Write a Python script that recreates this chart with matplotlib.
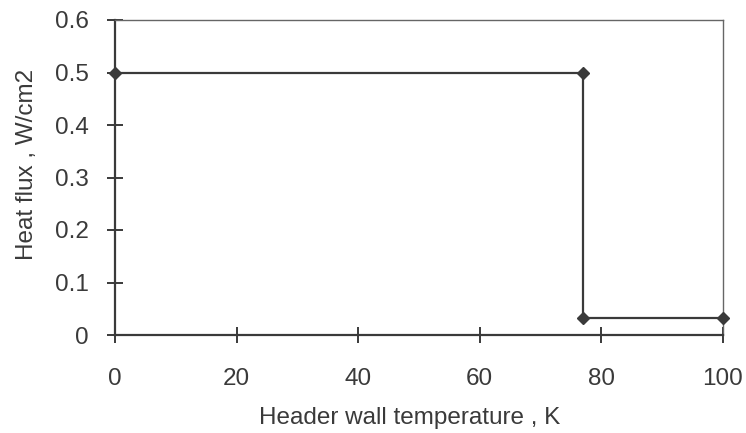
import matplotlib
matplotlib.use("Agg")
import matplotlib.pyplot as plt

# wall temperature (K) and heat flux (W/cm2) at the step points
temperature = [0, 77, 77, 100]
heat_flux = [0.5, 0.5, 0.032, 0.032]

x_ticks = [0, 20, 40, 60, 80, 100]
y_ticks = [0, 0.1, 0.2, 0.3, 0.4, 0.5, 0.6]

plt.rcParams["font.family"] = ["Liberation Sans", "DejaVu Sans"]
ink = "#3a3a3a"

fig = plt.figure(figsize=(7.46, 4.33), dpi=100)
ax = fig.add_axes([115 / 746, 1 - 335 / 433, 608 / 746, 315 / 433])

ax.plot(temperature, heat_flux, color=ink, lw=1.6, marker="D", ms=6,
        mfc=ink, mec=ink, clip_on=False, zorder=3)

ax.set_xlim(0, 100)
ax.set_ylim(0, 0.6)
ax.set_xticks(x_ticks)
ax.set_yticks(y_ticks)
ax.set_xticklabels([str(t) for t in x_ticks])
ax.set_yticklabels(["0"] + [f"{t:.1f}" for t in y_ticks[1:]])
ax.tick_params(direction="inout", length=12, width=1.4, colors=ink,
               labelsize=17.5)
ax.tick_params(axis="y", pad=13)
ax.tick_params(axis="x", pad=18)

for side in ("left", "bottom"):
    ax.spines[side].set_linewidth(1.6)
    ax.spines[side].set_color(ink)
for side in ("top", "right"):
    ax.spines[side].set_linewidth(1.0)
    ax.spines[side].set_color("#666666")

ax.set_xlabel("Header wall temperature , K", fontsize=17.5, color=ink, labelpad=12)
ax.set_ylabel("Heat flux , W/cm2", fontsize=17.5, color=ink, labelpad=12)
ax.xaxis.label.set_x(0.485)
ax.yaxis.label.set_y(0.54)

fig.savefig("out.png", dpi=100)
